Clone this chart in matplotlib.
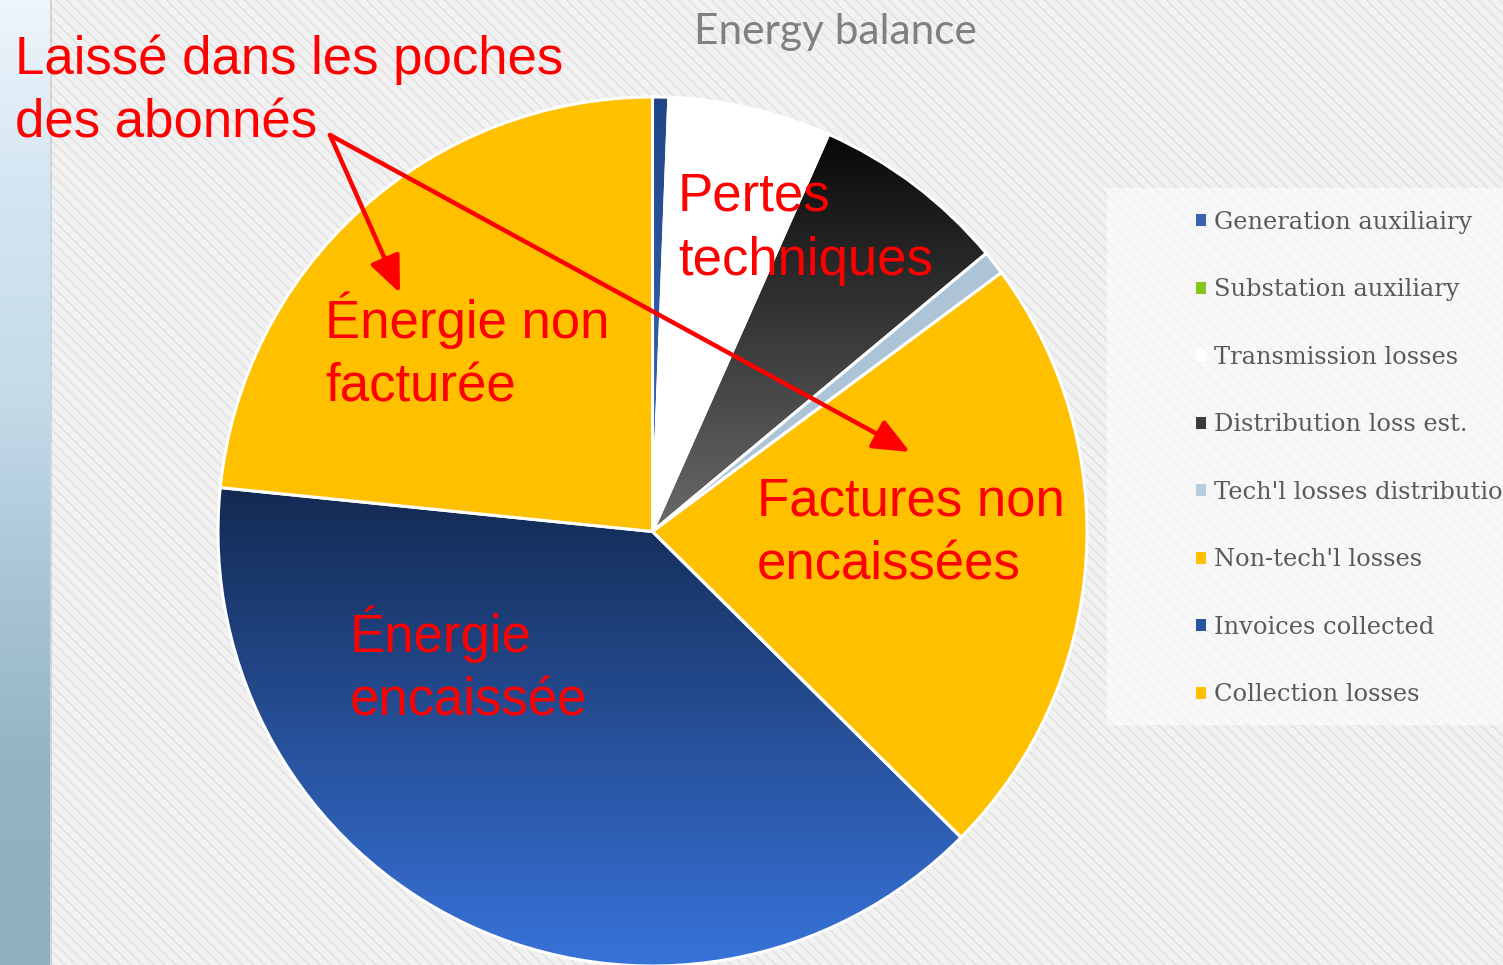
import matplotlib
matplotlib.use("Agg")
import matplotlib.pyplot as plt
import numpy as np
from matplotlib.colors import LinearSegmentedColormap
from matplotlib.patches import Patch, Rectangle

# slices, clockwise from 12 o'clock (percent of total energy)
labels = [
    "Generation auxiliairy",
    "Substation auxiliary",
    "Transmission losses",
    "Distribution loss est.",
    "Tech'l losses distribution",
    "Non-tech'l losses",
    "Invoices collected",
    "Collection losses",
]
shares = [0.6, 0.05, 6.0, 7.3, 0.9, 22.6, 39.2, 23.4]

slice_colors = ["#2a5598", "#7ab800", "#ffffff", "#2e2e2e",
                "#adc3d6", "#ffc000", "#22447f", "#ffc000"]
legend_colors = ["#3a64b0", "#86c41a", "#ffffff", "#3c3c3c",
                 "#b8cddb", "#ffc000", "#2a54a0", "#ffc000"]
# vertical shading (top colour, bottom colour) of some slices
gradients = {
    0: ("#1f4585", "#3c6cc2"),
    1: ("#5e9a00", "#9ad43a"),
    3: ("#080808", "#6a6a6a"),
    6: ("#132a52", "#3873da"),
}

# red overlay notes: text, left x, baseline of the last line (pixels from top)
notes = [
    ("Laissé dans les poches\ndes abonnés", 15, 138),
    ("Pertes\ntechniques", 678, 275),
    ("Énergie non\nfacturée", 325, 402),
    ("Factures non\nencaissées", 757, 580),
    ("Énergie\nencaissée", 350, 716),
]

W, H = 1503, 965
CX, CY, R = 652.5, 531.5, 434.5

plt.rcParams["hatch.linewidth"] = 1.0
plt.rcParams["hatch.color"] = "#e0e0e0"

fig = plt.figure(figsize=(W / 100, H / 100), dpi=100)
ax = fig.add_axes([0, 0, 1, 1])

# striped slide background
ax.add_patch(Rectangle((50, 0), W - 50, H, facecolor="#f1f1f1",
                       edgecolor="#e0e0e0", hatch="\\\\\\", lw=0, zorder=-5))
# photo strip on the left edge
strip = LinearSegmentedColormap.from_list(
    "strip", ["#8fb0bf", "#93b3c3", "#a9c6d6", "#c6dcea", "#d3e5f2", "#eef5fc"])
ax.imshow(np.linspace(0, 1, 256).reshape(-1, 1), cmap=strip, origin="lower",
          extent=(0, 50, 0, H), aspect="auto", zorder=-4)
ax.plot([50.5, 50.5], [0, H], color="#cfcfcf", lw=1.2, zorder=-4)

wedges, _ = ax.pie(
    shares, startangle=90, counterclock=False, center=(CX, H - CY), radius=R,
    colors=slice_colors, wedgeprops=dict(edgecolor="white", linewidth=2.2),
)

grad = np.linspace(0, 1, 256).reshape(-1, 1)
for i, (top, bottom) in gradients.items():
    w = wedges[i]
    ext = w.get_path().get_extents()
    cmap = LinearSegmentedColormap.from_list(f"g{i}", [bottom, top])
    im = ax.imshow(grad, cmap=cmap, origin="lower", aspect="auto",
                   extent=(ext.x0, ext.x1, ext.y0, ext.y1), zorder=0.5)
    im.set_clip_path(w)
    w.set_facecolor("none")

# legend panel
ax.add_patch(Rectangle((1107, H - 725), W - 1107, 537, facecolor="#fbfbfb",
                       edgecolor="none", alpha=0.7, zorder=-3))
handles = [Patch(facecolor=c, edgecolor="none") for c in legend_colors]
fig.legend(handles, labels, loc="upper left",
           bbox_to_anchor=(1196 / W, 1 - 211 / H), frameon=False,
           prop=dict(family="DejaVu Serif", size=17.4), labelcolor="#595959",
           handlelength=0.4, handleheight=0.4, handletextpad=0.35,
           labelspacing=1.84, borderaxespad=0, borderpad=0)

ax.text(835, H - 32, "Energy balance", ha="center", va="center",
        fontsize=30.5, family="Lato", color="#808080")

for text, x, y in notes:
    ax.text(x, H - y, text, ha="left", va="baseline", fontsize=38,
            family="Liberation Sans", color="red", linespacing=1.36, zorder=5)

arrow = dict(arrowstyle="-|>,head_length=0.7,head_width=0.3", color="red",
             lw=3.2, mutation_scale=32, shrinkA=0, shrinkB=0)
ax.annotate("", xy=(400, H - 293), xytext=(330, H - 135), arrowprops=arrow,
            zorder=6)
ax.annotate("", xy=(910, H - 452), xytext=(330, H - 135), arrowprops=arrow,
            zorder=6)

ax.set_xlim(0, W)
ax.set_ylim(0, H)
ax.set_axis_off()

fig.savefig("out.png", dpi=100)
